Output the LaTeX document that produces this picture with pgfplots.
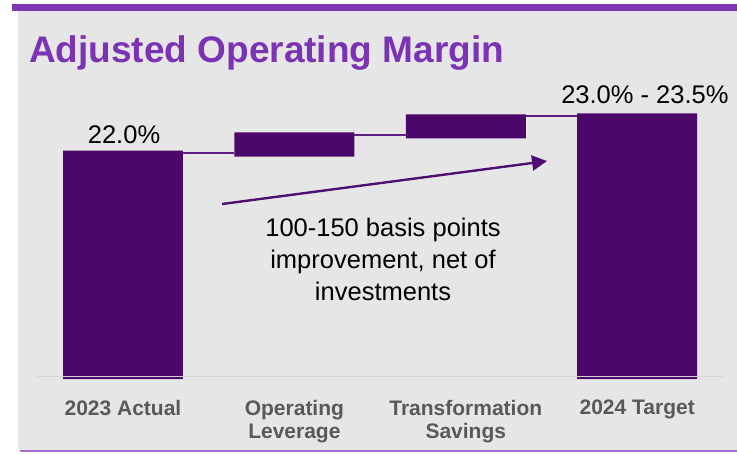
\documentclass[border=0pt]{standalone}
\usepackage{fontspec}
\setmainfont{Liberation Sans}
\usepackage{pgfplots}
\pgfplotsset{compat=1.18}
\usetikzlibrary{arrows.meta}

\definecolor{titlepurple}{RGB}{123,50,180}
\definecolor{toppurple}{RGB}{125,55,178}
\definecolor{linepurple}{RGB}{160,110,205}
\definecolor{bgray}{RGB}{230,230,230}
\definecolor{barpurple}{RGB}{75,8,106}
\definecolor{connpurple}{RGB}{95,30,130}
\definecolor{arrowpurple}{RGB}{80,15,110}
\definecolor{gridgray}{RGB}{212,212,212}
\definecolor{tickgray}{RGB}{89,89,89}

% shared geometry, so the overlay axis lines up with the bar axis
\pgfplotsset{wf/.style={
  scale only axis, width=685.6pt, height=290.6pt,
  at={(37.3pt,74pt)}, anchor=south west,
  xmin=-0.5, xmax=3.5, ymin=0, ymax=28,
  axis line style={draw=none}, ytick=\empty,
  major tick length=0pt, clip=false,
}}

\begin{document}
\begin{tikzpicture}
  \useasboundingbox (0pt,0pt) rectangle (737pt,453pt);
  % slide frame
  \fill[bgray] (18pt,3pt) rectangle (737pt,442.3pt);
  \fill[toppurple] (12pt,442.3pt) rectangle (737pt,448.7pt);
  \fill[linepurple] (20pt,1pt) rectangle (737pt,3pt);

  % bars: invisible base + visible part (waterfall)
  \begin{axis}[wf,
    ybar stacked, bar width=0.7,
    xtick={0,1,2,3},
    xticklabels={{2023 Actual},{Operating\\Leverage},{Transformation\\Savings},{2024 Target}},
    xticklabel style={align=center, text=tickgray, inner sep=0pt, yshift=-20.7pt,
      font=\fontsize{21}{23}\selectfont\bfseries},
  ]
    \addplot[fill=none, draw=none] coordinates {(0,0) (1,21.42) (2,23.19) (3,0)};
    \addplot[fill=barpurple, draw=none] coordinates {(0,22.0) (1,2.35) (2,2.31) (3,25.6)};
  \end{axis}

  % overlay: baseline, connectors, arrow, labels
  \begin{axis}[wf, xtick=\empty]
    \addplot[gridgray, line width=1.3pt] coordinates {(-0.5,0.24) (3.5,0.24)};
    \addplot[connpurple, line width=2pt] coordinates {(0.35,21.74) (0.65,21.74)};
    \addplot[connpurple, line width=2pt] coordinates {(1.35,23.54) (1.65,23.54)};
    \addplot[connpurple, line width=2pt] coordinates {(2.35,25.37) (2.65,25.37)};
    \addplot[arrowpurple, line width=2.4pt, -{Triangle[length=15pt,width=15pt]}]
      coordinates {(0.578,16.86) (2.474,21.0)};

    \node[anchor=base, inner sep=0pt, font=\fontsize{25.5}{30}\selectfont]
      at (axis cs:0.006,22.69) {22.0\%};
    \node[anchor=base, inner sep=0pt, font=\fontsize{25.5}{30}\selectfont]
      at (axis cs:3.045,26.59) {23.0\% - 23.5\%};
    \node[anchor=north, align=center, inner sep=0pt, font=\fontsize{25.5}{31.7}\selectfont]
      at (axis cs:1.517,15.51) {100-150 basis points\\improvement, net of\\investments};
  \end{axis}

  \node[anchor=base west, inner sep=0pt, text=titlepurple,
    font=\fontsize{37}{44}\selectfont\bfseries] at (29pt,390pt) {Adjusted Operating Margin};
\end{tikzpicture}
\end{document}
